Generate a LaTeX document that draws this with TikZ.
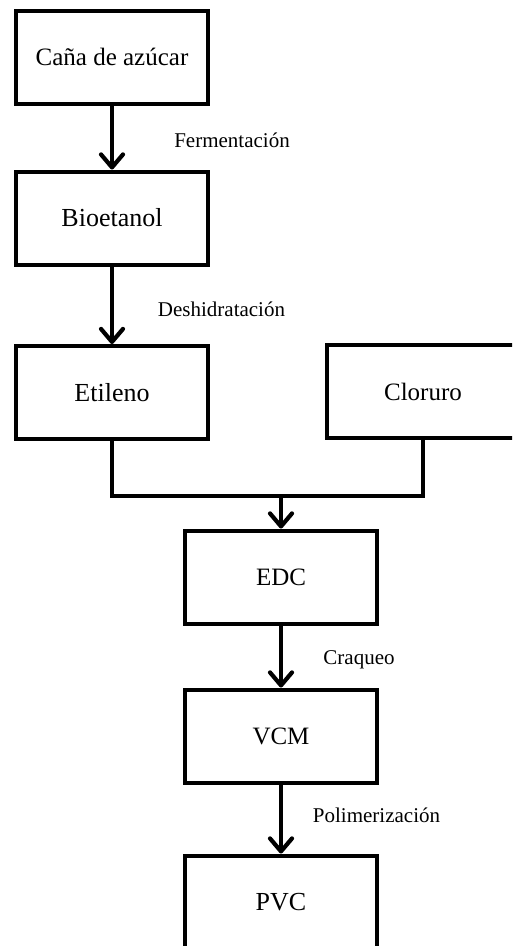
\documentclass[tikz,border=0pt]{standalone}
\usepackage{fontspec}
\setmainfont{Liberation Serif}
\usetikzlibrary{arrows.meta}
\begin{document}
\begin{tikzpicture}[x=1pt,y=-1pt]
\tikzset{
  stage/.style={draw, line width=4pt, minimum width=192pt, minimum height=93pt,
    inner sep=0pt, font=\fontsize{25}{30}\selectfont},
  flow/.style={line width=4.2pt,
    -{Straight Barb[length=13pt,width=22pt,line cap=round,line join=round]}},
  link/.style={line width=4pt},
  steplabel/.style={anchor=base, inner sep=0pt, font=\fontsize{21}{25}\selectfont}
}
\useasboundingbox (0,0) rectangle (512,946);
\clip (0,0) rectangle (512,946);

% process stages
\node[stage] (cana) at (112,57) {Caña de azúcar};
\node[stage, font=\fontsize{26}{30}\selectfont] (bio) at (112,218) {Bioetanol};
\node[stage, font=\fontsize{26}{30}\selectfont] (eti) at (112,392.5) {Etileno};
\node[stage] (clo) at (423,391.5) {Cloruro};
\node[stage] (edc) at (281,577) {EDC};
\node[stage] (vcm) at (281,736) {VCM};
\node[stage, font=\fontsize{26}{30}\selectfont] (pvc) at (281,902) {PVC};

% connections
\draw[flow] (cana.south) -- (bio.north);
\draw[flow] (bio.south) -- (eti.north);
\coordinate (join) at (281,495.5);
\draw[link] (eti.south) |- (join) -| (clo.south);
\draw[flow] (join) -- (edc.north);
\draw[flow] (edc.south) -- (vcm.north);
\draw[flow] (vcm.south) -- (pvc.north);

% process labels
\node[steplabel] (l1) at (232,147) {Fermentación};
\node[steplabel] (l2) at (221.5,316.5) {Deshidratación};
\node[steplabel] (l3) at (359,664) {Craqueo};
\node[steplabel] (l4) at (376.5,822) {Polimerización};
\end{tikzpicture}
\end{document}
